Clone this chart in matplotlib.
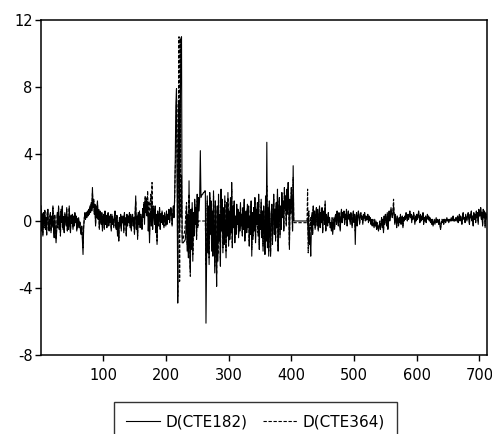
import numpy as np
import matplotlib
matplotlib.use('Agg')
import matplotlib.pyplot as plt

plt.rcParams['font.family'] = ['DejaVu Sans']
plt.rcParams['axes.unicode_minus'] = False

# first differences of the two CTE rates, observations 1..712
cte182 = [
    0.9, -0.6, 0.3, -0.9, 0.5, -0.2, 0.6, -0.5, 0.2, -0.8, 0.4, 0.7, -0.3, -0.6, 0.1, 0.5, -0.7, 0.3, -0.2, 0.8,
    -0.4, -1.0, 0.2, -0.5, -1.3, -0.6, 0.4, -0.2, 0.9, -0.5, 0.3, -0.8, 0.6, -0.1, 0.9, -0.4, 0.2, -0.7, 0.5, 0.1,
    -0.3, 0.8, -0.6, 0.2, -0.4, 0.9, -0.2, -0.7, 0.3, -0.1, 0.4, -0.5, 0.2, -0.3, 0.5, -0.1, 0.3, -0.6, 0.1, -0.4,
    0.2, -0.3, -0.1, -0.5, -0.8, -0.3, -1.1, -2.0, -0.4, 0.2, 0.4, 0.1, 0.5, 0.2, 0.6, 0.3, 0.7, 0.4, 0.9, 0.5,
    1.1, 0.6, 2.0, 0.8, 1.3, 0.4, 1.0, -0.3, 0.9, 0.2, 1.2, 0.1, 0.7, -0.5, 0.6, 0.3, -0.2, 0.5, -0.6, 0.2,
    0.4, -0.5, 0.6, -0.2, 0.3, -0.4, 0.1, 0.5, -0.3, 0.2, -0.1, 0.4, -0.6, 0.3, -0.2, 0.1, -0.4, 0.2, 0.6, -0.3,
    -0.5, 0.3, -0.9, -0.2, -1.2, 0.1, -0.3, 0.4, -0.6, 0.2, -0.1, 0.3, -0.7, 0.5, -0.2, 0.1, -0.9, 0.4, -0.3, 0.2,
    -0.1, 0.5, -0.4, 0.3, -0.6, 0.2, 0.4, -0.3, 0.1, -0.8, 0.3, 1.5, -0.5, 0.2, -1.1, 0.4, -0.2, 0.6, -0.4, 0.3,
    0.1, -0.5, 0.7, 0.2, 0.9, -0.2, 1.2, 0.5, 0.8, 0.3, 1.0, -0.6, 0.4, -1.3, 0.2, 0.6, -0.3, 1.2, -0.5, 0.7,
    0.4, -0.2, 0.9, -0.7, 0.3, -1.4, 0.5, -0.3, 0.2, 0.8, -0.5, 0.4, -0.1, 0.6, -0.2, 0.3, -0.4, 0.5, 0.1, -0.3,
    0.6, -0.2, 0.4, 0.1, 0.7, -0.1, 0.3, 0.8, 0.5, -0.3, 0.4, 0.9, 0.2, 1.4, 3.6, 6.9, 7.9, 2.1, -4.9, 5.2,
    7.1, -0.6, 6.0, 10.9, 11.0, -1.3, -1.3, -1.3, -1.2, -1.2, -1.1, -0.6, 0.9, -1.8, 0.4, -2.2, 2.4, -1.5, -2.9, 0.7,
    -1.7, 1.1, -2.4, 0.5, -0.9, 1.3, -0.2, 0.8, -1.1, 1.6, -0.4, 1.4, 0.6, 1.5, 4.2, 1.4, 1.5, 1.6, 1.6, 1.7,
    1.7, 1.8, 1.8, -6.1, -2.5, 1.5, -1.9, 0.9, -2.6, 1.7, -0.8, 1.2, -1.8, 0.6, -2.1, 1.8, -0.5, -3.1, 1.2, -1.6,
    -3.9, 0.9, -2.4, 1.6, -1.2, 0.4, -2.7, 1.9, -0.6, 1.3, -1.9, 0.8, -1.4, 1.5, -0.3, -2.2, 1.1, -0.9, 1.7, -1.5,
    0.6, -1.1, 1.4, -0.7, 2.3, -1.6, 0.9, -0.4, 1.2, -1.3, 0.3, -0.8, 1.0, -0.2, 0.7, -1.0, 0.5, -0.6, 1.1, -0.3,
    0.4, -0.9, 0.8, -0.5, 1.3, -1.2, 0.2, 0.6, -0.7, 1.0, -0.4, 0.9, -1.5, 0.3, -0.8, 1.2, -2.1, 0.5, -1.1, 0.8,
    -0.6, 1.4, -1.3, 0.7, -0.2, 1.1, -0.9, 1.6, -1.7, 0.4, -0.5, 1.3, -1.0, 0.6, -1.8, 0.9, -0.3, -2.0, 1.5, -1.2,
    4.7, -1.6, 0.8, -2.1, 1.2, -0.7, -1.9, 0.5, 1.0, -1.4, 0.3, 1.6, -0.8, 0.7, -1.2, 1.1, -0.4, 1.9, -1.8, 0.6,
    1.4, -1.0, 0.9, -0.5, 1.7, 0.2, 1.2, -0.6, 2.0, 0.8, 1.5, -0.3, 1.9, 0.4, 2.3, 1.0, -1.7, 1.3, 0.5, 2.0,
    1.1, -0.6, 3.3, 0.0, 0.0, 0.0, 0.0, 0.0, 0.0, 0.0, 0.0, 0.0, 0.0, 0.0, 0.0, 0.0, 0.0, 0.0, 0.0, 0.0,
    0.0, 0.0, 0.0, 0.0, 0.0, 0.0, -0.9, -1.3, -0.4, -1.0, -2.1, -0.6, 0.5, -0.8, 0.9, -0.2, 0.6, -0.5, 0.4, 0.8,
    -0.3, 0.7, -0.6, 0.2, 0.9, -0.4, 0.5, -0.1, 0.8, -0.7, 0.3, 0.6, -0.2, 1.2, -0.6, 0.4, 0.1, -0.3, 0.5, -0.1,
    0.2, -0.4, -0.2, -0.6, 0.1, -0.8, -0.3, 0.2, -0.5, 0.3, 0.4, -0.2, 0.6, 0.1, -0.3, 0.5, 0.2, -0.6, 0.3, 0.7,
    -0.1, 0.5, 0.2, 0.6, -0.2, 0.4, 0.1, 0.7, -0.3, 0.3, 0.6, 0.1, 0.4, -0.2, 0.5, 0.2, -0.4, 0.3, 0.6, -0.1,
    0.4, -1.4, 0.2, 0.5, -0.3, 0.3, 0.6, 0.2, -0.2, 0.4, 0.5, 0.1, 0.3, -0.2, 0.4, 0.2, 0.5, 0.0, 0.3, 0.1,
    0.2, 0.4, -0.1, 0.3, 0.1, 0.2, -0.2, 0.1, -0.3, 0.0, -0.2, -0.4, 0.1, -0.3, -0.1, -0.5, -0.2, -0.4, -0.6, -0.3,
    -0.1, -0.5, -0.2, 0.2, -0.4, 0.1, -0.7, 0.3, -0.2, 0.4, 0.1, -0.3, 0.5, -0.5, 0.2, 0.6, 0.0, 0.3, 0.8, 0.4,
    0.2, 0.5, 0.9, 0.3, -0.2, 0.4, 0.1, -0.4, 0.3, 0.0, -0.3, 0.2, -0.1, 0.4, -0.2, 0.1, 0.3, -0.4, 0.2, 0.0,
    0.3, 0.1, 0.5, 0.2, 0.0, 0.4, 0.1, 0.3, 0.6, 0.2, 0.4, -0.1, 0.3, 0.1, 0.5, 0.2, -0.2, 0.3, 0.0, 0.4,
    0.1, 0.3, 0.6, 0.2, -0.1, 0.4, 0.0, 0.3, 0.1, 0.5, -0.2, 0.2, 0.0, 0.3, -0.1, 0.2, 0.4, 0.1, 0.3, 0.0,
    0.2, -0.1, 0.1, -0.2, 0.0, -0.3, -0.1, 0.1, -0.2, 0.0, 0.2, -0.1, 0.1, 0.0, -0.2, 0.1, -0.3, -0.5, -0.2, 0.0,
    -0.1, 0.1, -0.2, 0.0, 0.1, -0.1, 0.0, 0.2, 0.0, 0.1, -0.1, 0.0, 0.1, 0.0, 0.2, 0.0, 0.1, 0.3, 0.0, 0.1,
    0.0, 0.2, 0.1, 0.0, 0.3, -0.1, 0.2, 0.4, 0.0, 0.3, 0.1, -0.2, 0.3, 0.5, 0.1, 0.2, -0.1, 0.4, 0.2, 0.0,
    0.3, 0.5, 0.1, -0.2, 0.4, 0.2, 0.6, 0.0, 0.3, -0.3, 0.5, 0.1, 0.4, -0.1, 0.6, 0.2, 0.5, -0.2, 0.7, 0.3,
    0.4, 0.8, 0.1, 0.5, -0.3, 0.7, 0.2, 0.6, -0.4, 0.5, 0.3, 0.1,
]

cte364 = [
    0.7, -0.4, 0.5, -0.8, 0.3, -0.4, 0.7, -0.3, 0.1, -0.9, 0.6, 0.5, -0.5, -0.4, 0.3, 0.4, -0.6, 0.2, -0.4, 0.9,
    -0.2, -0.8, 0.4, -0.7, -1.1, -0.4, 0.5, -0.4, 0.8, -0.3, 0.2, -0.9, 0.7, 0.0, 0.8, -0.5, 0.3, -0.6, 0.4, 0.2,
    -0.2, 0.7, -0.5, 0.3, -0.5, 0.8, -0.1, -0.6, 0.4, -0.2, 0.3, -0.4, 0.3, -0.2, 0.4, 0.0, 0.2, -0.5, 0.2, -0.3,
    0.1, -0.4, 0.0, -0.6, -0.7, -0.4, -0.9, -1.6, -0.3, 0.1, 0.5, 0.2, 0.4, 0.3, 0.5, 0.4, 0.6, 0.5, 0.8, 0.6,
    1.0, 0.7, 1.7, 0.9, 1.2, 0.5, 0.9, -0.2, 0.8, 0.3, 1.1, 0.2, 0.6, -0.4, 0.5, 0.4, -0.1, 0.4, -0.5, 0.3,
    0.3, -0.4, 0.5, -0.1, 0.4, -0.3, 0.2, 0.4, -0.2, 0.3, 0.0, 0.3, -0.5, 0.4, -0.1, 0.2, -0.3, 0.3, 0.5, -0.2,
    -0.4, 0.4, -0.8, -0.1, -1.0, 0.2, -0.2, 0.3, -0.5, 0.3, 0.0, 0.2, -0.6, 0.4, -0.1, 0.2, -0.8, 0.3, -0.2, 0.3,
    0.0, 0.4, -0.3, 0.4, -0.5, 0.3, 0.3, -0.2, 0.2, -0.7, 0.4, 1.2, -0.4, 0.3, -0.9, 0.5, -0.1, 0.5, -0.3, 0.4,
    0.2, -0.4, 0.8, 0.4, 1.1, 0.2, 1.5, 0.9, 1.4, 0.7, 1.8, 0.3, 1.2, -0.8, 0.9, 1.6, 0.5, 2.3, 0.2, 0.9,
    0.5, -0.1, 0.8, -0.6, 0.4, -1.2, 0.6, -0.2, 0.3, 0.7, -0.4, 0.5, 0.0, 0.5, -0.1, 0.4, -0.3, 0.4, 0.2, -0.2,
    0.5, -0.1, 0.3, 0.2, 0.6, 0.0, 0.4, 0.7, 0.6, -0.2, 0.5, 0.8, 0.3, 1.2, 3.0, 4.1, 7.3, 6.8, -4.5, 3.9,
    11.0, -3.6, 10.9, 0.2, 2.7, -0.9, -1.1, -1.0, -0.8, -0.6, -0.2, 0.6, 1.1, -1.4, 0.2, -1.9, 1.6, -1.2, -3.3, 0.4,
    -1.4, 0.8, -2.0, 0.3, -0.7, 1.0, -0.1, 0.6, -0.9, 1.2, -0.3, 0.0, 0.0, 0.0, 0.0, 0.0, 0.0, 0.0, 0.0, 0.0,
    0.0, 0.0, 0.0, -2.6, -1.8, 1.2, -1.5, 0.7, -2.2, 1.4, -0.6, 1.0, -1.5, 0.5, -1.8, 1.5, -0.3, -2.7, 1.0, -1.3,
    -3.2, 0.7, -2.0, 1.3, -1.0, 0.3, -2.3, 1.6, -0.4, 1.1, -1.6, 0.6, -1.1, 1.2, -0.2, -1.8, 0.9, -0.7, 1.4, -1.2,
    0.5, -0.9, 1.2, -0.5, 1.9, -1.3, 0.7, -0.3, 1.0, -1.0, 0.2, -0.6, 0.8, -0.1, 0.6, -0.8, 0.4, -0.5, 0.9, -0.2,
    0.3, -0.7, 0.6, -0.4, 1.1, -1.0, 0.1, 0.5, -0.5, 0.8, -0.3, 0.7, -1.2, 0.2, -0.6, 1.0, -1.7, 0.4, -0.9, 0.6,
    -0.5, 1.2, -1.1, 0.6, -0.1, 0.9, -0.7, 1.3, -1.4, 0.3, -0.4, 1.1, -0.8, 0.5, -1.5, 0.7, -0.2, -1.7, 1.2, -1.0,
    2.1, -1.3, 0.6, -1.8, 1.0, -0.5, -2.1, 0.4, 0.8, -1.1, 0.2, 1.3, -0.6, 0.5, -1.0, 0.9, -0.3, 1.6, -1.5, 0.5,
    1.2, -0.8, 0.7, -0.4, 1.4, 0.3, 1.0, -0.5, 1.7, 0.6, 1.3, -0.2, 1.6, 0.5, 2.0, 0.8, -1.5, 1.1, 0.4, 1.7,
    0.9, -0.5, 2.6, -0.1, -0.1, -0.1, -0.1, -0.1, -0.1, -0.1, -0.1, -0.1, -0.1, -0.1, -0.1, -0.1, -0.1, -0.1, -0.1, -0.1,
    -0.1, -0.1, -0.1, -0.1, -0.1, 1.9, -1.9, 0.6, -1.4, -0.6, 0.2, -0.5, 0.4, -0.7, 0.7, -0.1, 0.5, -0.4, 0.3, 0.6,
    -0.2, 0.6, -0.5, 0.3, 0.8, -0.3, 0.4, 0.0, 0.7, -0.6, 0.2, 0.5, -0.1, 1.0, -0.5, 0.3, 0.2, -0.2, 0.4, 0.0,
    0.1, -0.3, -0.1, -0.5, 0.2, -0.6, -0.2, 0.1, -0.4, 0.2, 0.3, -0.1, 0.5, 0.2, -0.2, 0.4, 0.1, -0.5, 0.2, 0.6,
    0.0, 0.4, 0.3, 0.5, -0.1, 0.3, 0.2, 0.6, -0.2, 0.2, 0.5, 0.2, 0.3, -0.1, 0.4, 0.3, -0.3, 0.2, 0.5, 0.0,
    0.3, -0.6, 0.1, 0.4, -0.2, 0.2, 0.5, 0.3, -0.1, 0.3, 0.4, 0.2, 0.2, -0.1, 0.3, 0.1, 0.4, 0.1, 0.2, 0.0,
    0.1, 0.3, 0.0, 0.2, 0.0, 0.1, -0.1, 0.0, -0.2, 0.1, -0.1, -0.3, 0.0, -0.2, 0.0, -0.4, -0.1, -0.3, -0.5, -0.2,
    0.0, -0.4, -0.1, 0.1, -0.3, 0.0, -0.6, 0.2, -0.1, 0.3, 0.2, -0.2, 0.4, -0.4, 0.3, 0.5, 0.1, 0.4, 0.7, 0.5,
    0.3, 0.6, 1.3, 0.4, -0.1, 0.3, 0.2, -0.3, 0.2, 0.1, -0.2, 0.1, 0.0, 0.3, -0.1, 0.2, 0.2, -0.3, 0.1, 0.1,
    0.2, 0.2, 0.4, 0.3, 0.1, 0.3, 0.2, 0.2, 0.5, 0.3, 0.3, 0.0, 0.2, 0.2, 0.4, 0.3, -0.1, 0.2, 0.1, 0.3,
    0.2, 0.2, 0.5, 0.3, 0.0, 0.3, 0.1, 0.2, 0.2, 0.4, -0.1, 0.1, 0.1, 0.2, 0.0, 0.1, 0.3, 0.2, 0.2, 0.1,
    0.1, 0.0, 0.0, -0.1, 0.1, -0.2, 0.0, 0.0, -0.1, 0.1, 0.1, 0.0, 0.0, 0.1, -0.1, 0.0, -0.2, -0.4, -0.1, 0.1,
    0.0, 0.0, -0.1, 0.1, 0.0, 0.0, 0.1, 0.1, 0.1, 0.0, 0.0, 0.1, 0.0, 0.1, 0.1, 0.1, 0.0, 0.2, 0.1, 0.0,
    0.1, 0.1, 0.2, 0.1, 0.2, 0.0, 0.1, 0.3, 0.1, 0.2, 0.2, -0.1, 0.2, 0.4, 0.2, 0.1, 0.0, 0.3, 0.3, 0.1,
    0.2, 0.4, 0.2, -0.1, 0.3, 0.3, 0.5, 0.1, 0.2, -0.2, 0.4, 0.2, 0.3, 0.0, 0.5, 0.3, 0.4, -0.1, 0.6, 0.4,
    0.3, 0.7, 0.2, 0.4, -0.2, 0.6, 0.3, 0.5, -0.3, 0.4, 0.4, 0.2,
]

series_labels = ['D(CTE182)', 'D(CTE364)']
y_ticks = [-8, -4, 0, 4, 8, 12]
x_ticks = [100, 200, 300, 400, 500, 600, 700]

x182 = np.arange(1, len(cte182) + 1)
x364 = np.arange(1, len(cte364) + 1)

fig = plt.figure(figsize=(4.92, 4.34), dpi=100)
ax = fig.add_axes([41 / 492, 1 - 355 / 434, 446 / 492, 335 / 434])

ax.plot(x182, cte182, color='black', lw=0.8, label=series_labels[0])
ax.plot(x364, cte364, color='black', lw=0.8, linestyle=(0, (3, 1.5)), label=series_labels[1])

ax.set_xlim(1, 712)
ax.set_ylim(-8, 12)
ax.set_xticks(x_ticks)
ax.set_yticks(y_ticks)
ax.tick_params(direction='out', length=4, width=1, labelsize=10.5, colors='black')
ax.tick_params(axis='y', pad=2)
ax.tick_params(axis='x', pad=5)
for sp in ax.spines.values():
    sp.set_linewidth(1.1)

leg = fig.legend(loc='upper center', bbox_to_anchor=(255.5 / 492, 1 - 402 / 434), ncol=2,
                 frameon=True, fancybox=False, edgecolor='black', fontsize=11,
                 handlelength=2.2, handletextpad=0.4, columnspacing=1.0, borderaxespad=0,
                 borderpad=0.8)
leg.get_frame().set_linewidth(1.0)

fig.savefig('out.png', dpi=100, facecolor='white')
